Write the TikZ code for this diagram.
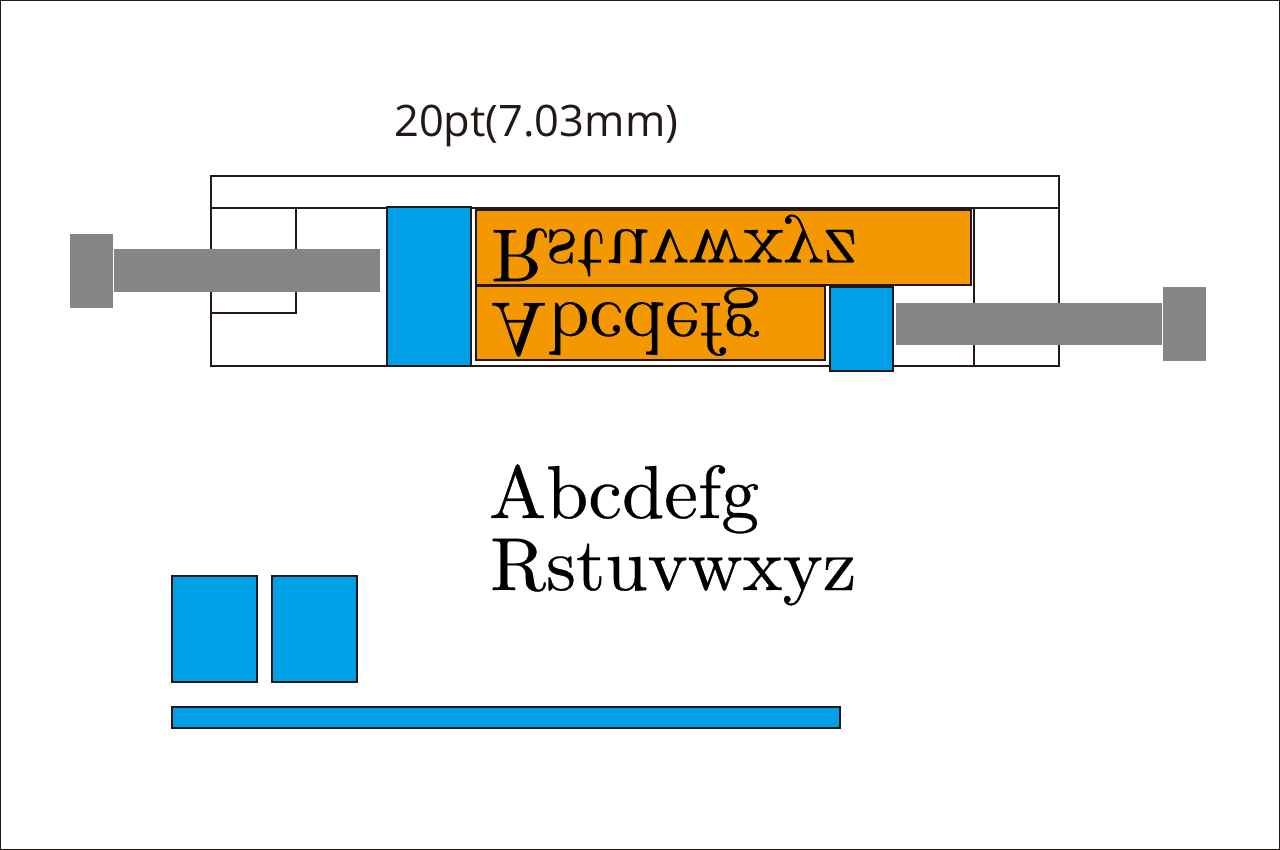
\documentclass[tikz,border=0pt]{standalone}
\usepackage{fontspec}
\newfontfamily\labelfont{Open Sans}
\newfontfamily\lmten[Kerning=Off,FakeBold=0.4,FakeStretch=1.012]{lmroman10-regular.otf}
\definecolor{blu}{HTML}{00A0E9}
\definecolor{org}{HTML}{F39800}
\definecolor{gry}{HTML}{858585}
\definecolor{ink}{HTML}{231815}
\tikzset{
  line/.style={draw=ink,line width=1.5pt},
  blubox/.style={draw=ink,line width=1.2pt,fill=blu},
  orgbox/.style={draw=ink,line width=1.5pt,fill=org},
  bolt/.style={fill=gry,draw=none},
  bigtext/.style={inner sep=0pt,anchor=base west,text=black,font=\lmten\fontsize{75}{75}\selectfont},
}
\begin{document}
\begin{tikzpicture}[x=1pt,y=-1pt]
\useasboundingbox (0,0) rectangle (1280,850);
\draw[draw=ink,line width=2pt] (0,0) rectangle (1280,850);
\node[inner sep=0pt,anchor=base west,text=ink,font=\labelfont\fontsize{43.4}{43.4}\selectfont] (dim) at (394,137) {20pt(7.03mm)};
% frame
\draw[line] (211,176) rectangle (1059,366);
\draw[line] (211,208) -- (1059,208);
\draw[line] (211,313) -- (296,313) -- (296,208);
\draw[line] (974,208) -- (974,366);
% blue
\draw[blubox] (387,207) rectangle (471,366);
\draw[orgbox] (476,210) rectangle (971,285);
\draw[orgbox] (476,286) rectangle (825,360);
\draw[blubox] (830,287) rectangle (893,371);
% bolts
\fill[bolt] (70,234) rectangle (113,308);
\fill[bolt] (114,249) rectangle (380,292);
\fill[bolt] (896,303) rectangle (1162,345);
\fill[bolt] (1163,287) rectangle (1206,361);
% flipped text
\node[bigtext] (flipb) at (491,230) {\scalebox{1}[-1]{Rstuvwxyz}};
\node[bigtext] (flipa) at (490,303) {\scalebox{1}[-1]{Abcdefg}};
% upright text
\node[bigtext] (texta) at (489,518) {Abcdefg};
\node[bigtext] (textb) at (490,590) {Rstuvwxyz};
% parts
\draw[blubox] (172,576) rectangle (257,682);
\draw[blubox] (272,576) rectangle (357,682);
\draw[blubox] (172,707) rectangle (840,728);
\end{tikzpicture}
\end{document}
